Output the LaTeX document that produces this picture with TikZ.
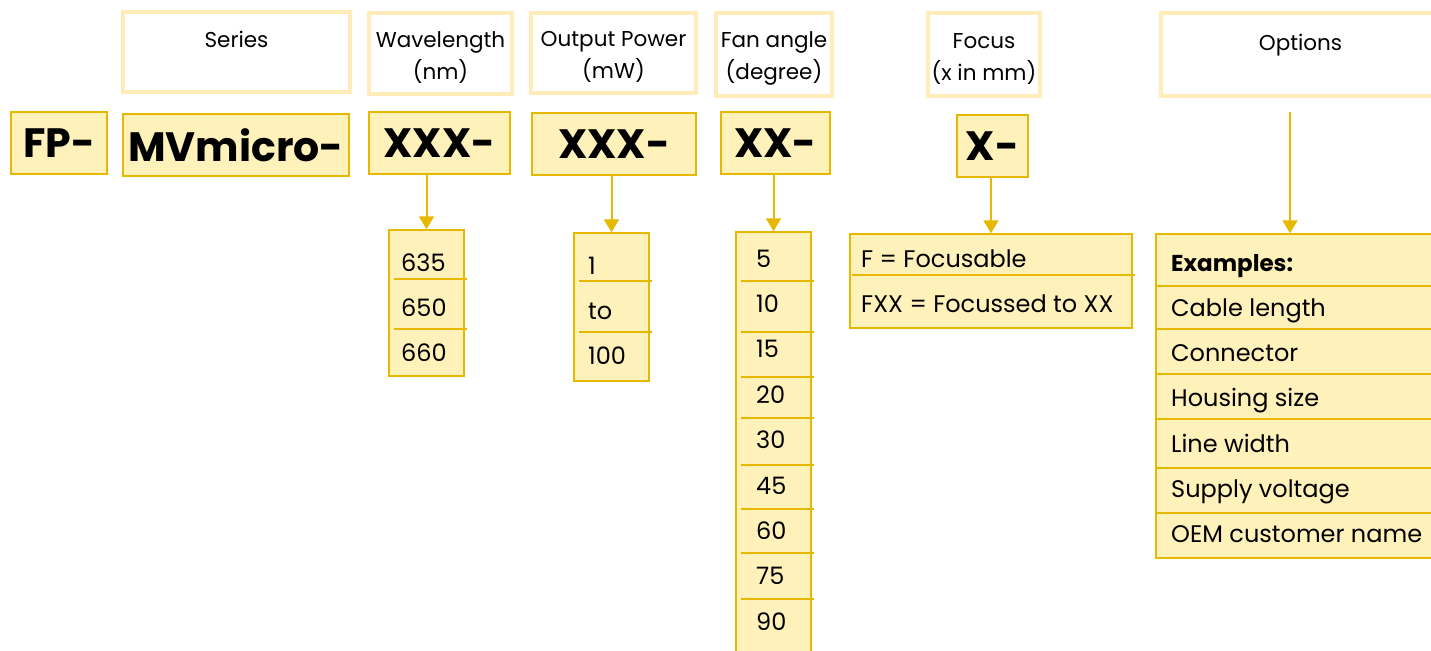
\documentclass[tikz,border=0pt]{standalone}
\usepackage{fontspec}
\setmainfont{Poppins}
\usetikzlibrary{calc, arrows.meta}

\definecolor{codefill}{RGB}{255,241,186}
\definecolor{codegold}{RGB}{231,184,0}
\definecolor{headline}{RGB}{255,236,184}

\begin{document}
\begin{tikzpicture}[x=1pt, y=-1pt,
	head/.style={rectangle, draw=headline, line width=4pt, fill=white, align=center, text height=56pt, font=\fontsize{21.5}{32}\selectfont},
	code/.style={rectangle, draw=codegold, line width=2pt, fill=codefill, inner sep=2pt, font=\fontsize{41}{41}\selectfont\bfseries},
	list/.style={rectangle, draw=codegold, line width=1.5pt, fill=codefill},
	item/.style={anchor=base west, inner sep=0pt, font=\fontsize{24}{28}\selectfont},
	rule/.style={draw=codegold, line width=1.5pt},
	down/.style={draw=codegold, line width=2pt, -{Triangle[length=13pt, width=15pt]}}]
	
	\useasboundingbox (0,0) rectangle (1431,650);
	
	% headers
	\node[head, minimum width=227, minimum height=80] (serieshead) at (236.5,52) {Series\\\mbox{}};
	\node[head, minimum width=143, minimum height=81] (wavehead) at (440.5,53.5) {Wavelength\\(nm)};
	\node[head, minimum width=165, minimum height=80] (powerhead) at (613.5,53) {Output Power\\(mW)};
	\node[head, minimum width=116, minimum height=83] (fanhead) at (774,54.5) {Fan angle\\(degree)};
	\node[head, minimum width=108, minimum height=83] (focushead) at (984,54.5) {Focus\\(x in mm)};
	\node[head, minimum width=279, minimum height=83] (opthead) at (1300.5,54.5) {Options\\\mbox{}};
	
	% code parts
	\node[code, minimum width=96, minimum height=62] (fpcode) at (59,143) {FP-};
	\node[code, minimum width=226, minimum height=62] (seriescode) at (236,145) {MVmicro-};
	\node[code, minimum width=141, minimum height=62] (wavecode) at (439.5,143) {XXX-};
	\node[code, minimum width=164, minimum height=62] (powercode) at (614,144) {XXX-};
	\node[code, minimum width=109, minimum height=62] (fancode) at (775.5,143) {XX-};
	\node[code, minimum width=71, minimum height=62] (focuscode) at (992.5,146) {X-};
	\coordinate (optstart) at (1290,112);
	
	% lists
	\node[list, minimum width=75, minimum height=146] (wavelist) at (426.5,303) {};
	\node[list, minimum width=75, minimum height=148] (powerlist) at (611.5,307) {};
	\node[list, minimum width=75, minimum height=428] (fanlist) at (773.5,446) {};
	\node[list, minimum width=282, minimum height=94] (focuslist) at (991,281) {};
	\node[list, minimum width=289, minimum height=324] (optlist) at (1300.5,396) {};
	
	\foreach \y in {279,329} \draw[rule] (394,\y) -- (467,\y);
	\foreach \y in {281,332} \draw[rule] (579,\y) -- (652,\y);
	\foreach \y in {281,332,377,418,465,509,553,599} \draw[rule] (741,\y) -- (814,\y);
	\draw[rule] (852,275) -- (1135,275);
	\foreach \y in {286,329,374,419,468,513} \draw[rule] (1156,\y) -- (1445,\y);
	
	\foreach \val [count=\i] in {635,650,660}
		\node[item] (wave\i) at (401,{271+45*(\i-1)}) {\val};
	\foreach \val [count=\i] in {1,to,100}
		\node[item] (power\i) at (588,{274+45*(\i-1)}) {\val};
	\foreach \val [count=\i] in {5,10,15,20,30,45,60,75,90}
		\node[item] (fan\i) at (756,{267+45.4*(\i-1)}) {\val};
	\node[item] (focus1) at (861,267) {F = Focusable};
	\node[item] (focus2) at (861,312) {FXX = Focussed to XX};
	\node[item, font=\fontsize{23}{28}\selectfont\bfseries] (opt1) at (1171,271) {Examples:};
	\foreach \val [count=\i from 2] in {Cable length,Connector,Housing size,Line width,Supply voltage,OEM customer name}
		\node[item] (opt\i) at (1171,{271+45.3*(\i-1)}) {\val};
	
	% arrows
	\draw[down] (wavecode.south -| wavelist.north) -- (wavelist.north);
	\draw[down] (powercode.south -| powerlist.north) -- (powerlist.north);
	\draw[down] (fancode.south -| fanlist.north) -- (fanlist.north);
	\draw[down] (focuscode.south -| focuslist.north) -- (focuslist.north);
	\draw[down] (optstart) -- (optstart |- optlist.north);
	
\end{tikzpicture}
\end{document}
